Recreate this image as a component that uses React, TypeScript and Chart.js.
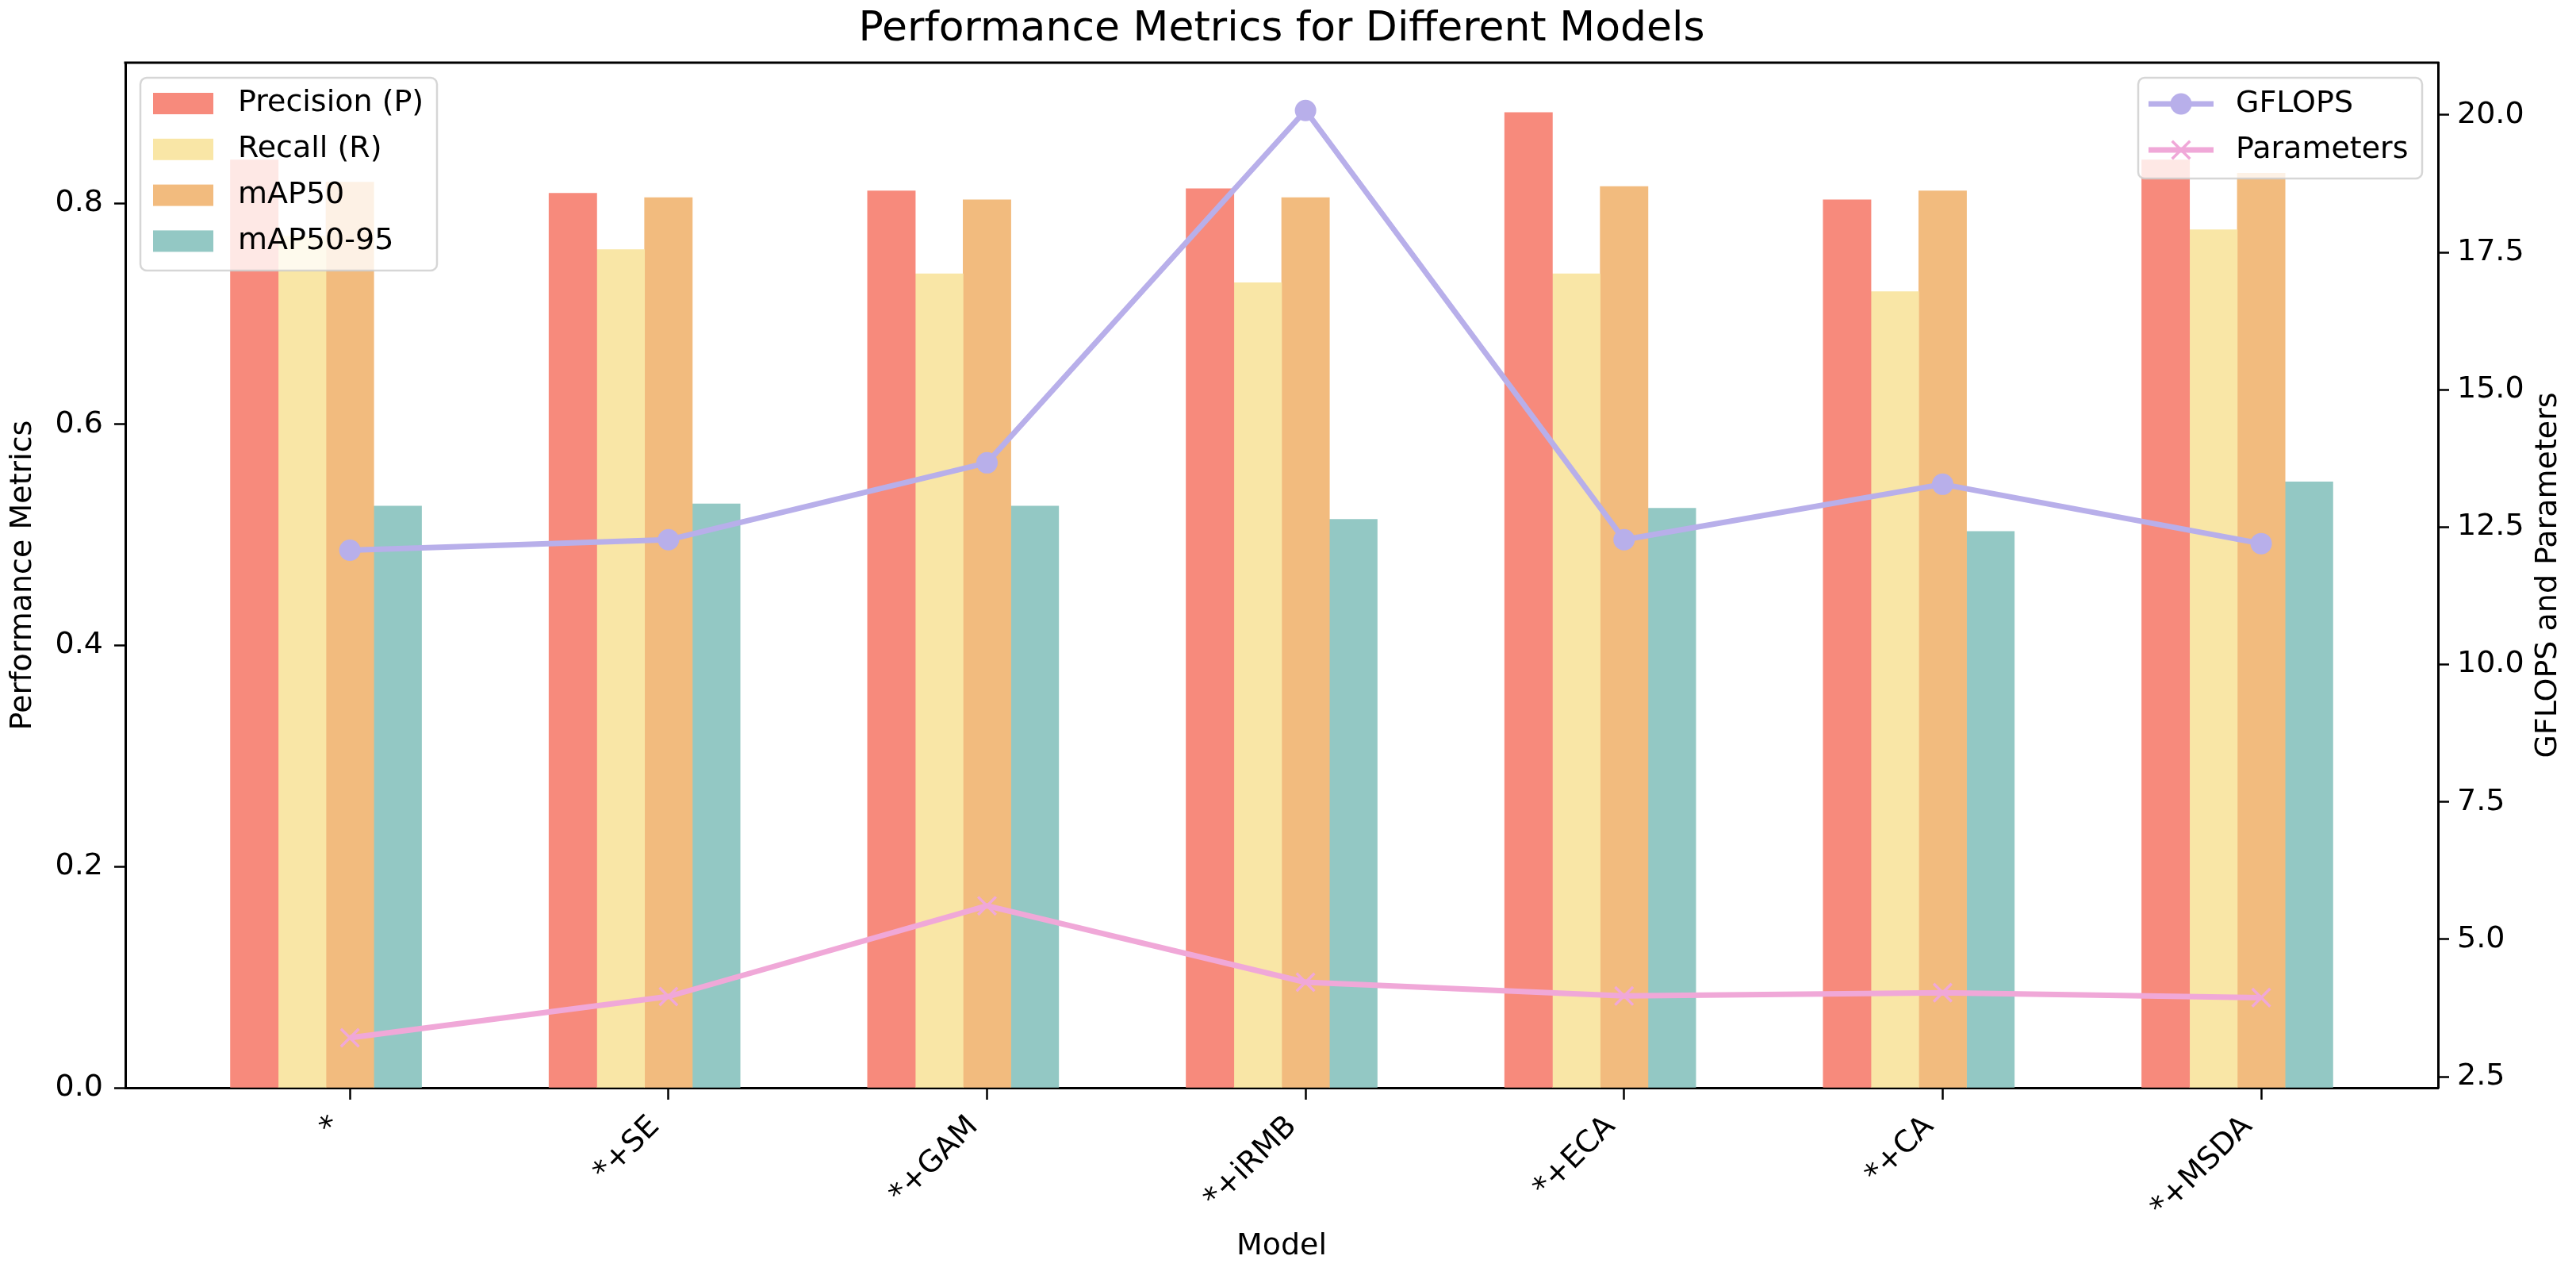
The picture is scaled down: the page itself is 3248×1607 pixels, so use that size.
import React, { useEffect, useRef } from 'react';
import { Chart, registerables } from 'chart.js';

Chart.register(...registerables);

// ---- data ----
const models = ['*', '*+SE', '*+GAM', '*+iRMB', '*+ECA', '*+CA', '*+MSDA'];
const precision = [0.839, 0.809, 0.811, 0.813, 0.882, 0.803, 0.839];
const recall = [0.77, 0.758, 0.736, 0.728, 0.736, 0.72, 0.776];
const map50 = [0.819, 0.805, 0.803, 0.805, 0.815, 0.811, 0.827];
const map5095 = [0.526, 0.528, 0.526, 0.514, 0.524, 0.503, 0.548];
const gflops = [12.08, 12.27, 13.67, 20.08, 12.27, 13.28, 12.2];
const parameters = [3.21, 3.96, 5.61, 4.22, 3.97, 4.03, 3.94];
const leftTicks = [0, 0.2, 0.4, 0.6, 0.8];
const rightTicks = [2.5, 5, 7.5, 10, 12.5, 15, 17.5, 20];

const FONT = 'DejaVu Sans';
const FS = 38;
const BAR_W = 0.15;

function frame(ctx: CanvasRenderingContext2D, x: number, y: number, w: number, h: number) {
  ctx.save();
  ctx.beginPath();
  (ctx as any).roundRect(x, y, w, h, 8);
  ctx.fillStyle = 'rgba(255,255,255,0.8)';
  ctx.fill();
  ctx.strokeStyle = 'rgba(204,204,204,0.8)';
  ctx.lineWidth = 2.5;
  ctx.stroke();
  ctx.restore();
}

const extrasPlugin = {
  id: 'extras',
  afterDraw(chart: any) {
    const ctx: CanvasRenderingContext2D = chart.ctx;
    const { left, right, top, bottom } = chart.chartArea;
    // top spine
    ctx.save();
    ctx.strokeStyle = '#000';
    ctx.lineWidth = 3;
    ctx.beginPath();
    ctx.moveTo(left - 1.5, top);
    ctx.lineTo(right + 1.5, top);
    ctx.stroke();

    // right axis title (reads bottom to top)
    ctx.fillStyle = '#000';
    ctx.font = `${FS}px "${FONT}"`;
    ctx.textAlign = 'center';
    ctx.textBaseline = 'middle';
    ctx.translate(3213, (top + bottom) / 2);
    ctx.rotate(-Math.PI / 2);
    ctx.fillText('GFLOPS and Parameters', 0, 0);
    ctx.restore();

    const ds = chart.data.datasets;
    const bars = ds.filter((d: any) => d.type === 'bar');
    const lines = ds.filter((d: any) => d.type === 'line');

    ctx.save();
    ctx.font = `${FS}px "${FONT}"`;
    ctx.textBaseline = 'middle';
    ctx.textAlign = 'left';
    // left legend
    frame(ctx, 177, 98, 374, 243);
    bars.forEach((d: any, i: number) => {
      const cy = 130.5 + i * 57.8;
      ctx.fillStyle = d.backgroundColor;
      ctx.fillRect(193, cy - 13.5, 76, 27);
      ctx.fillStyle = '#000';
      ctx.fillText(d.label, 300, cy);
    });
    // right legend
    frame(ctx, 2696, 98, 358, 127);
    lines.forEach((d: any, i: number) => {
      const cy = 131 + i * 58;
      ctx.strokeStyle = d.borderColor;
      ctx.lineWidth = d.borderWidth;
      ctx.beginPath();
      ctx.moveTo(2709, cy);
      ctx.lineTo(2791, cy);
      ctx.stroke();
      const cx = 2750;
      if (d.pointStyle === 'circle') {
        ctx.fillStyle = d.borderColor;
        ctx.beginPath();
        ctx.arc(cx, cy, d.pointRadius, 0, Math.PI * 2);
        ctx.fill();
      } else {
        const r = d.pointRadius * Math.SQRT1_2;
        ctx.lineWidth = d.pointBorderWidth;
        ctx.beginPath();
        ctx.moveTo(cx - r, cy - r);
        ctx.lineTo(cx + r, cy + r);
        ctx.moveTo(cx - r, cy + r);
        ctx.lineTo(cx + r, cy - r);
        ctx.stroke();
      }
      ctx.fillStyle = '#000';
      ctx.fillText(d.label, 2819, cy);
    });
    ctx.restore();
  },
};

export default function App() {
  const ref = useRef<HTMLCanvasElement>(null);

  useEffect(() => {
    document.body.style.margin = '0';
    document.body.style.overflow = 'hidden';
    Chart.defaults.font.family = FONT;
    Chart.defaults.color = '#000';

    const barSeries = [
      { label: 'Precision (P)', values: precision, color: '#F78A7C' },
      { label: 'Recall (R)', values: recall, color: '#F9E6A6' },
      { label: 'mAP50', values: map50, color: '#F2BB7E' },
      { label: 'mAP50-95', values: map5095, color: '#93C8C4' },
    ];
    const barDatasets = barSeries.map((s, k) => ({
      type: 'bar' as const,
      label: s.label,
      data: s.values.map((v, i) => ({ x: i + (k - 2) * BAR_W, y: v })),
      backgroundColor: s.color,
      borderWidth: 0,
      grouped: false,
      barPercentage: 1,
      categoryPercentage: 1,
      xAxisID: 'x',
      yAxisID: 'y',
      order: 2,
    }));
    const lineDatasets = [
      {
        type: 'line' as const,
        label: 'GFLOPS',
        data: gflops.map((v, i) => ({ x: i, y: v })),
        borderColor: '#B8AFEA',
        backgroundColor: '#B8AFEA',
        borderWidth: 7,
        pointStyle: 'circle',
        pointRadius: 13.5,
        pointBorderWidth: 0,
        pointBackgroundColor: '#B8AFEA',
        borderJoinStyle: 'round' as const,
        tension: 0,
        xAxisID: 'x',
        yAxisID: 'y1',
        order: 1,
      },
      {
        type: 'line' as const,
        label: 'Parameters',
        data: parameters.map((v, i) => ({ x: i, y: v })),
        borderColor: '#F0A8D8',
        backgroundColor: '#F0A8D8',
        borderWidth: 7,
        pointStyle: 'crossRot',
        pointRadius: 16,
        pointBorderWidth: 3.5,
        pointBorderColor: '#F0A8D8',
        borderJoinStyle: 'round' as const,
        tension: 0,
        xAxisID: 'x',
        yAxisID: 'y1',
        order: 0,
      },
    ];

    const tickFont = { family: FONT, size: FS };
    const chart = new Chart(ref.current!, {
      data: { datasets: [...barDatasets, ...lineDatasets] as any },
      options: {
        animation: false,
        responsive: false,
        devicePixelRatio: 1,
        layout: { padding: 0 },
        plugins: {
          legend: { display: false },
          tooltip: { enabled: false },
          title: {
            display: true,
            fullSize: false,
            text: 'Performance Metrics for Different Models',
            font: { family: FONT, size: 52, weight: 'normal', lineHeight: 1.2 },
            color: '#000',
            padding: { top: 6, bottom: 10.6 },
          },
        },
        scales: {
          x: {
            type: 'linear',
            position: 'bottom',
            offset: false,
            min: -0.705,
            max: 6.555,
            afterBuildTicks: (s: any) => {
              s.ticks = models.map((_, i) => ({ value: i }));
            },
            afterFit: (s: any) => {
              s.height = 236;
            },
            ticks: {
              callback: (v: any) => models[Math.round(Number(v))] ?? '',
              autoSkip: false,
              minRotation: 45,
              maxRotation: 45,
              font: tickFont,
              color: '#000',
              padding: 12,
              labelOffset: -17,
            },
            grid: { display: true, offset: false, drawOnChartArea: false, drawTicks: true, tickLength: 15, tickWidth: 2.5, tickColor: '#000' },
            border: { display: true, color: '#000', width: 3 },
            title: { display: true, text: 'Model', font: tickFont, color: '#000', padding: { top: 0, bottom: 13 } },
          },
          y: {
            type: 'linear',
            position: 'left',
            min: 0,
            max: 0.927,
            afterBuildTicks: (s: any) => {
              s.ticks = leftTicks.map((v) => ({ value: v }));
            },
            afterFit: (s: any) => {
              s.width = 158;
            },
            ticks: { callback: (v: any) => Number(v).toFixed(1), font: tickFont, color: '#000', padding: 14 },
            grid: { display: true, drawOnChartArea: false, drawTicks: true, tickLength: 14, tickWidth: 2.5, tickColor: '#000' },
            border: { display: true, color: '#000', width: 3 },
            title: { display: true, text: 'Performance Metrics', font: tickFont, color: '#000', padding: { top: 6, bottom: 0 } },
          },
          y1: {
            type: 'linear',
            position: 'right',
            min: 2.3,
            max: 20.95,
            afterBuildTicks: (s: any) => {
              s.ticks = rightTicks.map((v) => ({ value: v }));
            },
            afterFit: (s: any) => {
              s.width = 174;
            },
            ticks: { callback: (v: any) => Number(v).toFixed(1), font: tickFont, color: '#000', padding: 10 },
            grid: { display: true, drawOnChartArea: false, drawTicks: true, tickLength: 14, tickWidth: 2.5, tickColor: '#000' },
            border: { display: true, color: '#000', width: 3 },
            title: { display: false },
          },
        },
      } as any,
      plugins: [extrasPlugin],
    });
    return () => chart.destroy();
  }, []);

  return (
    <canvas
      ref={ref}
      width={3248}
      height={1607}
      style={{ display: 'block', width: '3248px', height: '1607px' }}
    />
  );
}
